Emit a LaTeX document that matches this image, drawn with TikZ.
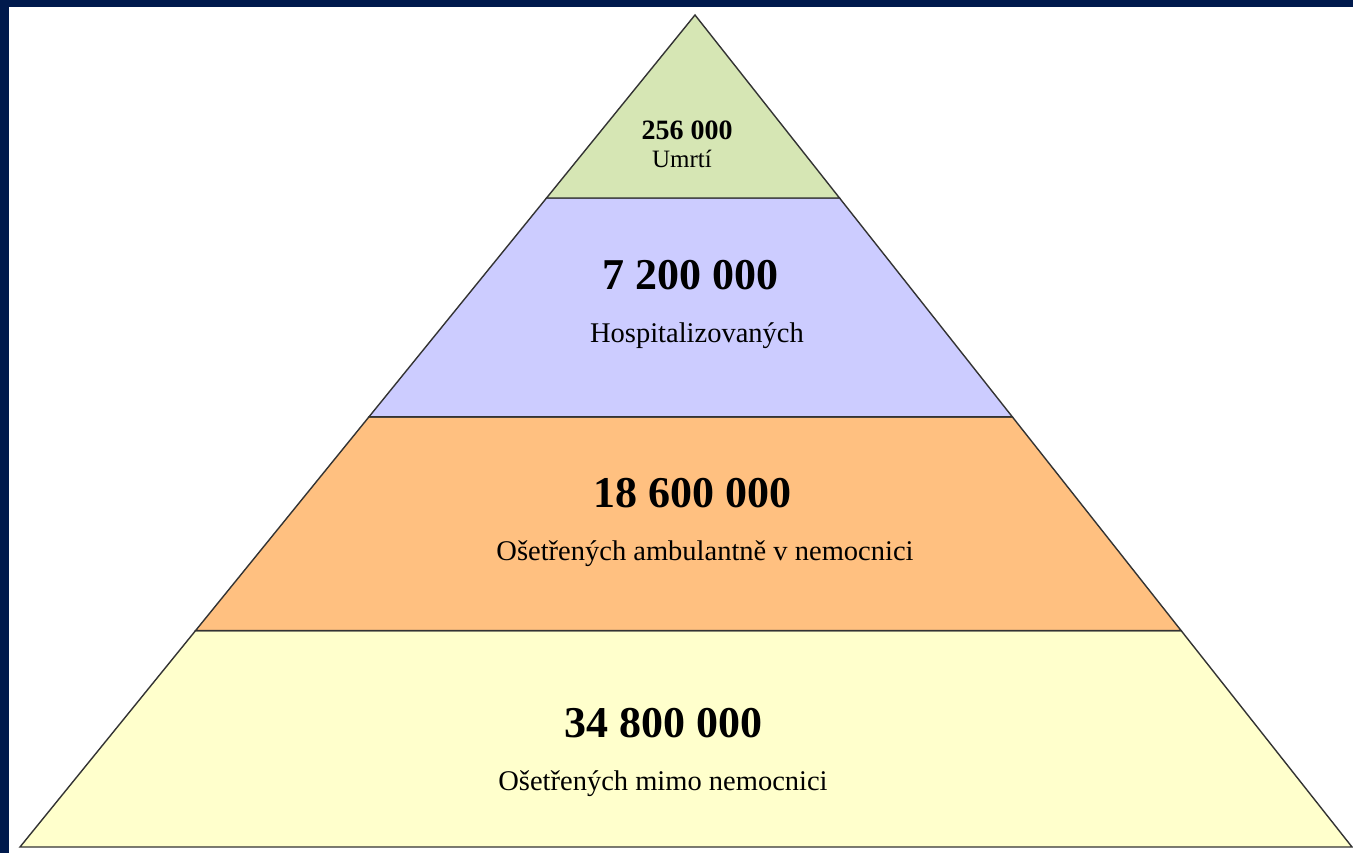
\documentclass[tikz,border=0pt]{standalone}
\usepackage{fontspec}
\setmainfont{Liberation Serif}
\usetikzlibrary{calc}

\definecolor{frameblue}{RGB}{0,26,77}
\definecolor{deadgreen}{RGB}{214,230,180}
\definecolor{hospblue}{RGB}{204,204,255}
\definecolor{ambuorange}{RGB}{255,192,128}
\definecolor{outyellow}{RGB}{255,255,204}

\begin{document}
\begin{tikzpicture}[
  x=1pt,y=-1pt,
  band/.style={draw=black!80,line width=1.4pt,line join=miter},
  num/.style={font=\bfseries\fontsize{44}{48}\selectfont,inner sep=0pt,anchor=base},
  numtop/.style={num,font=\bfseries\fontsize{28}{30}\selectfont},
  lbl/.style={font=\fontsize{28.5}{30}\selectfont,inner sep=0pt,anchor=base}
]

% Frame
\fill[frameblue] (0,0) rectangle (1353,853);
\fill[white] (9,7) rectangle (1353,853);
\useasboundingbox (0,0) rectangle (1353,853);

% Pyramid corners
\coordinate (top) at (695,15);
\coordinate (bl) at (20,847);
\coordinate (br) at (1352,847);
\coordinate (l1) at ($(top)!0.220!(bl)$);
\coordinate (r1) at ($(top)!0.220!(br)$);
\coordinate (l2) at ($(top)!0.483!(bl)$);
\coordinate (r2) at ($(top)!0.483!(br)$);
\coordinate (l3) at ($(top)!0.740!(bl)$);
\coordinate (r3) at ($(top)!0.740!(br)$);

% Bands
\draw[band,fill=outyellow] (l3) -- (r3) -- (br) -- (bl) -- cycle;
\draw[band,fill=ambuorange] (l2) -- (r2) -- (r3) -- (l3) -- cycle;
\draw[band,fill=hospblue] (l1) -- (r1) -- (r2) -- (l2) -- cycle;
\draw[band,fill=deadgreen] (top) -- (r1) -- (l1) -- cycle;

% Texts
\node[numtop] (deadnum) at (687,140) {256 000};
\node[lbl,font=\fontsize{25}{27}\selectfont] (dead) at (682,168) {Umrtí};
\node[num] (hospnum) at (690,290) {7 200 000};
\node[lbl] (hosp) at (697,342) {Hospitalizovaných};
\node[num] (ambunum) at (692,507) {18 600 000};
\node[lbl] (ambu) at (705,560) {Ošetřených ambulantně v nemocnici};
\node[num] (outnum) at (663,737) {34 800 000};
\node[lbl] (out) at (663,790) {Ošetřených mimo nemocnici};

\end{tikzpicture}
\end{document}
